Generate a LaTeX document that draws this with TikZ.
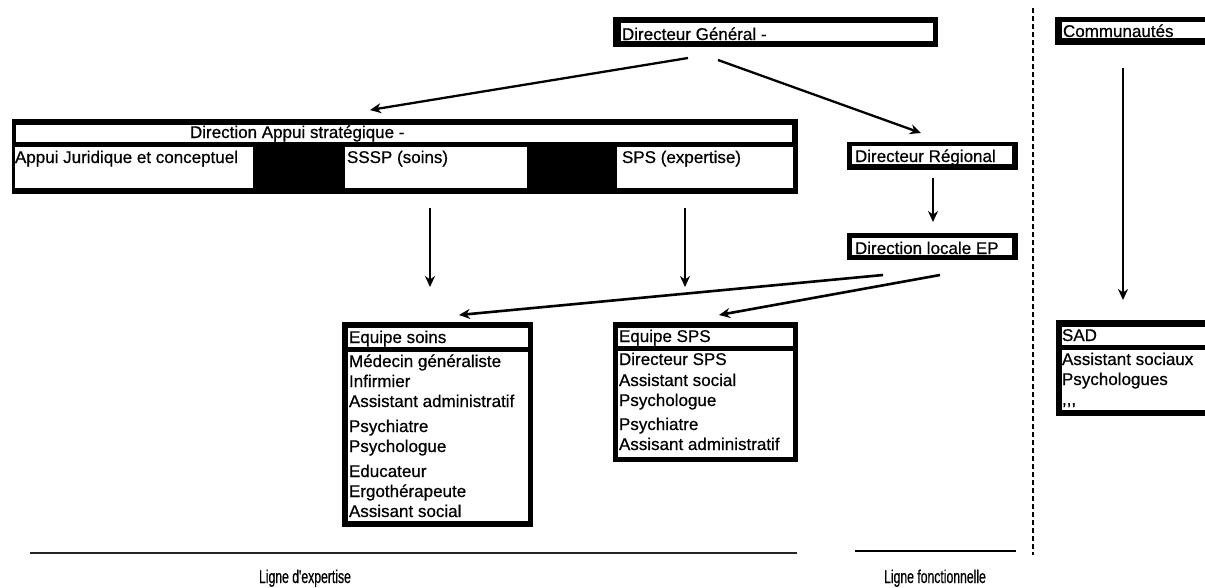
\documentclass[tikz,border=0pt]{standalone}
\usepackage{fontspec}
\setmainfont{Liberation Sans}
\newfontfamily\heavyfont[FakeBold=0.6]{Liberation Sans}
\newfontfamily\narrowfont[FakeStretch=0.66,FakeBold=0.5]{Liberation Sans}
\usetikzlibrary{arrows.meta}
\newcommand{\mainsz}{\heavyfont\fontsize{17}{20}\selectfont}
\tikzset{
  blk/.style={fill=black, draw=none, inner sep=0pt, outer sep=0pt, anchor=north west},
  wht/.style={fill=white, draw=none, inner sep=0pt, outer sep=0pt, anchor=north west},
  txt/.style={anchor=base west, inner sep=0pt, outer sep=0pt, font=\mainsz},
  lbl/.style={anchor=base, inner sep=0pt, font=\narrowfont\fontsize{18.5}{20}\selectfont},
  arr/.style={line width=2.3pt, -{Stealth[length=11pt,width=10pt]}},
}
\begin{document}
\begin{tikzpicture}[x=1pt,y=-1pt]
\useasboundingbox (0,0) rectangle (1205,587);
\clip (0,0) rectangle (1205,587);
\fill[white] (0,0) rectangle (1205,587);

% Directeur General
\node[blk, minimum width=325pt, minimum height=30pt] (dg) at (613,17) {};
\node[wht, minimum width=312pt, minimum height=18pt] (dgw) at (621,23) {};
\node[txt] (dgt) at (622,40) {Directeur Général -};

% Communautes
\node[blk, minimum width=160pt, minimum height=28pt] (com) at (1055,17) {};
\node[wht, minimum width=153pt, minimum height=16pt] (comw) at (1062,22) {};
\node[txt] (comt) at (1063,37) {Communautés};

% Direction Appui strategique
\node[blk, minimum width=786pt, minimum height=75pt] (das) at (12,119) {};
\node[wht, minimum width=776pt, minimum height=17pt] (dash) at (16,125) {};
\node[wht, minimum width=238pt, minimum height=41pt] (dasa) at (15,147) {};
\node[wht, minimum width=182pt, minimum height=41pt] (dasb) at (345,147) {};
\node[wht, minimum width=176pt, minimum height=41pt] (dasc) at (617,147) {};
\node[txt] (dast) at (190,138) {Direction Appui stratégique -};
\node[txt] (dasat) at (15,163) {Appui Juridique et conceptuel};
\node[txt] (dasbt) at (347,163) {SSSP (soins)};
\node[txt] (dasct) at (622,163) {SPS (expertise)};

% Directeur Regional
\node[blk, minimum width=171pt, minimum height=28pt] (dr) at (847,142) {};
\node[wht, minimum width=160pt, minimum height=18pt] (drw) at (852,146) {};
\node[txt] (drt) at (855,162) {Directeur Régional};

% Direction locale EP
\node[blk, minimum width=171pt, minimum height=27pt] (dl) at (847,233) {};
\node[wht, minimum width=160pt, minimum height=17pt] (dlw) at (852,238) {};
\node[txt] (dlt) at (855,254) {Direction locale EP};

% Equipe soins
\node[blk, minimum width=191pt, minimum height=205pt] (es) at (342,322) {};
\node[wht, minimum width=180pt, minimum height=19pt] (esh) at (348,328) {};
\node[wht, minimum width=180pt, minimum height=169pt] (esb) at (348,352) {};
\node[txt] (est) at (349,343) {Equipe soins};
\node[blk, minimum width=180pt, minimum height=5pt] (ess) at (348,347) {};
\node[txt] (es1) at (349,367) {Médecin généraliste};
\node[txt] (es2) at (349,387) {Infirmier};
\node[txt] (es3) at (349,407) {Assistant administratif};
\node[txt] (es4) at (349,432) {Psychiatre};
\node[txt] (es5) at (349,452) {Psychologue};
\node[txt] (es6) at (349,477) {Educateur};
\node[txt] (es7) at (349,497) {Ergothérapeute};
\node[txt] (es8) at (349,517) {Assisant social};

% Equipe SPS
\node[blk, minimum width=185pt, minimum height=140pt] (sp) at (613,322) {};
\node[wht, minimum width=175pt, minimum height=18pt] (sph) at (618,328) {};
\node[wht, minimum width=175pt, minimum height=106pt] (spb) at (618,351) {};
\node[txt] (spt) at (619,342) {Equipe SPS};
\node[blk, minimum width=175pt, minimum height=5pt] (sps) at (618,346) {};
\node[txt] (sp1) at (619,365) {Directeur SPS};
\node[txt] (sp2) at (619,386) {Assistant social};
\node[txt] (sp3) at (619,406) {Psychologue};
\node[txt] (sp4) at (619,430) {Psychiatre};
\node[txt] (sp5) at (619,450) {Assisant administratif};

% SAD
\node[blk, minimum width=159pt, minimum height=96pt] (sad) at (1056,320) {};
\node[wht, minimum width=153pt, minimum height=18pt] (sadh) at (1062,327) {};
\node[wht, minimum width=153pt, minimum height=60pt] (sadb) at (1062,350) {};
\node[txt] (sadt) at (1062,341) {SAD};
\node[txt] (sad1) at (1062,365) {Assistant sociaux};
\node[txt] (sad2) at (1062,385) {Psychologues};
\node[txt] (sad3) at (1062,405) {,,,};

% connector end points
\coordinate (dgL) at (688,58);
\coordinate (dasT) at (370,110);
\coordinate (dgR) at (718,60);
\coordinate (drT) at (921,133);
\coordinate (drB) at (933,178);
\coordinate (dlT) at (933,222);
\coordinate (dasB1) at (430,208);
\coordinate (esT1) at (430,287);
\coordinate (dasB2) at (685,208);
\coordinate (spT1) at (685,287);
\coordinate (dlB1) at (883,275);
\coordinate (esT2) at (459,315);
\coordinate (dlB2) at (940,275);
\coordinate (spT2) at (719,315);
\coordinate (comB) at (1123,68);
\coordinate (sadT) at (1123,300);

\draw[arr] (dgL) -- (dasT);
\draw[arr] (dgR) -- (drT);
\draw[arr] (drB) -- (dlT);
\draw[arr] (dasB1) -- (esT1);
\draw[arr] (dasB2) -- (spT1);
\draw[arr, line width=2.6pt] (dlB1) -- (esT2);
\draw[arr, line width=2.6pt] (dlB2) -- (spT2);
\draw[arr] (comB) -- (sadT);

% dashed separator
\coordinate (sepT) at (1033,8);
\coordinate (sepB) at (1033,555);
\draw[line width=1.4pt, dash pattern=on 5pt off 3pt] (sepT) -- (sepB);

% bottom legend
\coordinate (l1a) at (30,553);
\coordinate (l1b) at (797,553);
\coordinate (l2a) at (855,551);
\coordinate (l2b) at (1016,551);
\draw[line width=2.5pt, black!85] (l1a) -- (l1b);
\draw[line width=1.6pt] (l2a) -- (l2b);
\node[lbl] (lex) at (305,583) {Ligne d'expertise};
\node[lbl] (lfo) at (935,583) {Ligne fonctionnelle};
\end{tikzpicture}
\end{document}
